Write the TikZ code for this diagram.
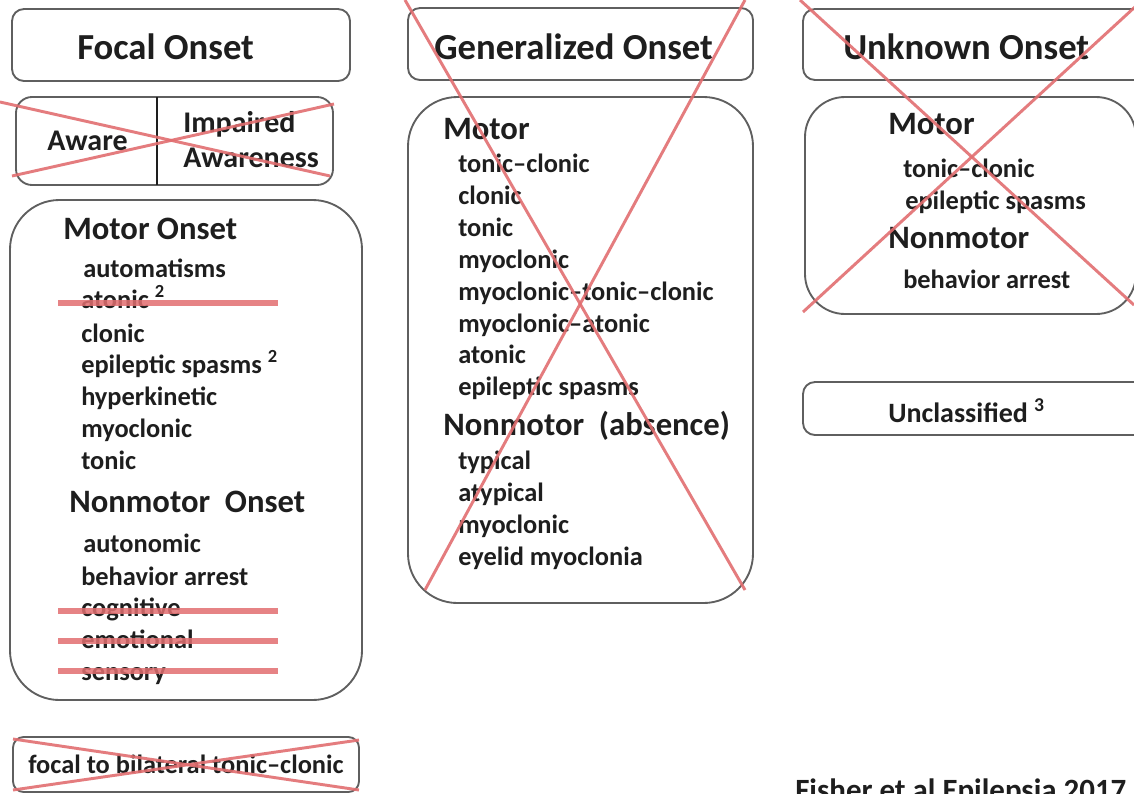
\documentclass[tikz,border=0pt]{standalone}
\usepackage{fontspec}
\setmainfont{Carlito}
\definecolor{boxgray}{RGB}{95,95,95}
\definecolor{txtcol}{RGB}{30,30,30}
\definecolor{xred}{RGB}{226,110,112}
\begin{document}
\begin{tikzpicture}[x=0.75pt,y=-0.75pt,
  box/.style={draw=boxgray,line width=1.4pt,rounded corners=9pt},
  bigbox/.style={draw=boxgray,line width=1.4pt,rounded corners=37pt},
  txt/.style={inner sep=0pt,anchor=base west,text=txtcol},
  head/.style={txt,font=\bfseries\fontsize{27.5}{30}\selectfont},
  sub/.style={txt,font=\bfseries\fontsize{24.5}{28}\selectfont},
  item/.style={txt,font=\bfseries\fontsize{19.8}{24}\selectfont},
  cross/.style={draw=xred,line width=2.2pt,opacity=0.9},
  strike/.style={draw=xred,line width=4.5pt,opacity=0.85}]
\useasboundingbox (0,0) rectangle (1134,793);
\fill[white] (0,0) rectangle (1134,793);

% ---------- Focal column ----------
\draw[box] (12,9) rectangle (350,81);
\node[head] (focal) at (77,59) {Focal Onset};

\draw[box,rounded corners=12pt] (16,97) rectangle (333,185);
\draw[line width=1.6pt,draw=txtcol] (157,97) -- (157,185);
\node[txt,font=\bfseries\fontsize{22.5}{26}\selectfont] (aware) at (47,150) {Aware};
\node[txt,font=\bfseries\fontsize{22.5}{26}\selectfont] (impaired) at (183,132) {Impaired};
\node[txt,font=\bfseries\fontsize{22.5}{26}\selectfont] (awareness) at (183,167) {Awareness};
\draw[cross] (0,102) -- (330,176);
\draw[cross] (12,176) -- (334,104);

\draw[bigbox] (10,200) rectangle (362,700);
\node[sub] (motoronset) at (63,239) {Motor Onset};
\node[item] (f1) at (83,277) {automatisms};
\node[item] (f2) at (81,308) {atonic \textsuperscript{2}};
\node[item] (f3) at (81,342) {clonic};
\node[item] (f4) at (81,373) {epileptic spasms \textsuperscript{2}};
\node[item] (f5) at (81,405) {hyperkinetic};
\node[item] (f6) at (81,437) {myoclonic};
\node[item] (f7) at (81,469) {tonic};
\node[sub] (nonmotoronset) at (69,512) {Nonmotor\ \ Onset};
\node[item] (f8) at (83,552) {autonomic};
\node[item] (f9) at (81,585) {behavior arrest};
\node[item] (f10) at (81,616) {cognitive};
\node[item] (f11) at (81,648) {emotional};
\node[item] (f12) at (81,680) {sensory};
\draw[strike] (58,303) -- (278,303);
\draw[strike] (58,611) -- (278,611);
\draw[strike] (58,641) -- (278,641);
\draw[strike] (58,671) -- (278,671);

\draw[box,rounded corners=8pt] (13,737) rectangle (359,792);
\node[item] (fbtc) at (28,773) {focal to bilateral tonic–clonic};
\draw[cross] (13,739) -- (359,790);
\draw[cross] (13,790) -- (359,740);

% ---------- Generalized column ----------
\draw[box] (408,8) rectangle (753,80);
\node[head] (gen) at (434,59) {Generalized Onset};

\draw[bigbox] (408,97) rectangle (753,603);
\node[sub] (gmotor) at (443,139) {Motor};
\node[item] (g1) at (458,172) {tonic–clonic};
\node[item] (g2) at (458,204) {clonic};
\node[item] (g3) at (458,236) {tonic};
\node[item] (g4) at (458,268) {myoclonic};
\node[item] (g5) at (458,300) {myoclonic–tonic–clonic};
\node[item] (g6) at (458,332) {myoclonic–atonic};
\node[item] (g7) at (458,363) {atonic};
\node[item] (g8) at (458,395) {epileptic spasms};
\node[sub] (gnonmotor) at (443,435) {Nonmotor\ \ (absence)};
\node[item] (g9) at (458,469) {typical};
\node[item] (g10) at (458,501) {atypical};
\node[item] (g11) at (458,533) {myoclonic};
\node[item] (g12) at (458,565) {eyelid myoclonia};
\draw[cross] (405,0) -- (745,590);
\draw[cross] (745,0) -- (425,590);

% ---------- Unknown column ----------
\draw[box] (803,9) rectangle (1146,80);
\node[head] (unk) at (843,59) {Unknown Onset};

\draw[box,rounded corners=30pt] (805,97) rectangle (1136,314);
\node[sub] (umotor) at (888,134) {Motor};
\node[item] (u1) at (903,177) {tonic–clonic};
\node[item] (u2) at (905,209) {epileptic spasms};
\node[sub] (unonmotor) at (888,248) {Nonmotor};
\node[item] (u3) at (903,288) {behavior arrest};
\draw[cross] (800,0) -- (1134,305);
\draw[cross] (803,312) -- (1136,6);

\draw[box] (803,382) rectangle (1146,435);
\node[txt,font=\bfseries\fontsize{21}{25}\selectfont] (uncl) at (888,422) {Unclassified \textsuperscript{3}};

\node[txt,font=\bfseries\fontsize{23.2}{27}\selectfont] (cite) at (795,800) {Fisher et al Epilepsia 2017};
\end{tikzpicture}
\end{document}
